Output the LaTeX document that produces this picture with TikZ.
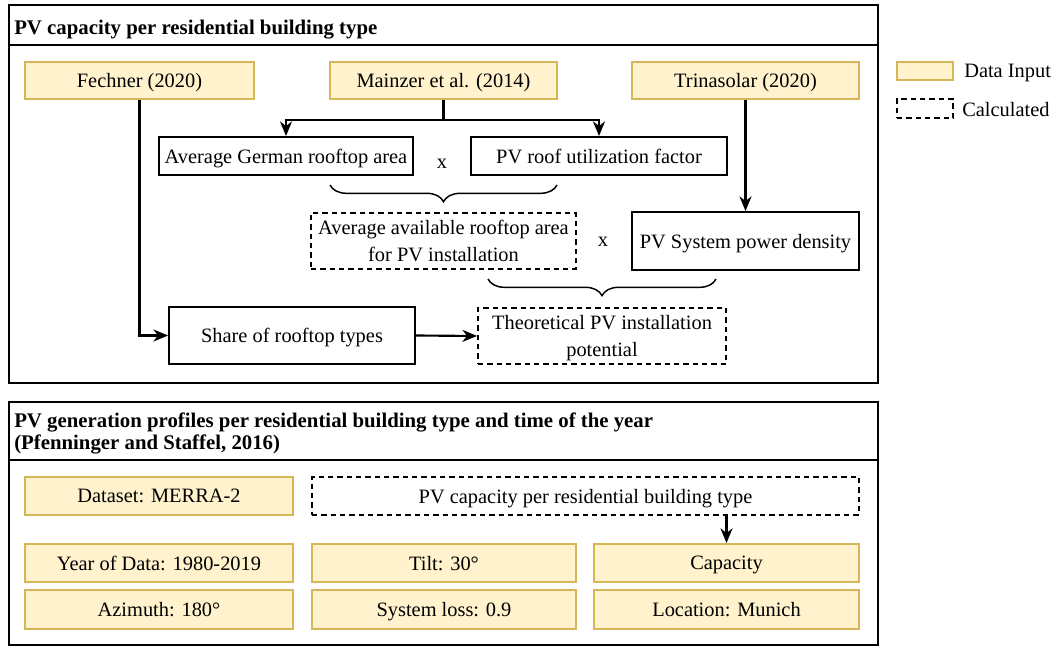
\documentclass[tikz,border=0pt]{standalone}
\usepackage{fontspec}
\setmainfont{Liberation Serif}
\usetikzlibrary{arrows.meta,decorations.pathreplacing}
\definecolor{inputfill}{HTML}{FFF2CC}
\definecolor{inputline}{HTML}{D6B656}

\begin{document}
\begin{tikzpicture}[%
      x=0.75pt, y=-0.75pt,
      every node/.style={font=\fontsize{15.3}{20}\selectfont, inner sep=0pt, text depth=0pt},
      title/.style={font=\fontsize{15.6}{16.5}\selectfont\bfseries, anchor=west, align=left},
      datain/.style={draw=inputline, fill=inputfill, line width=1.4pt, align=center},
      calcbox/.style={draw=black, line width=1.4pt, dash pattern=on 4pt off 3pt, align=center},
      plainbox/.style={draw=black, line width=1.4pt, align=center},
      frame/.style={draw=black, line width=1.5pt},
      link/.style={line width=1.6pt, -{Stealth[length=11pt,width=9pt,inset=3.5pt]}},
      brace/.style={line width=1.1pt, decorate, decoration={brace, mirror, amplitude=12.5pt}},
      ]
      \useasboundingbox (0,0) rectangle (1057,648);

      % upper panel
      \draw [frame] (9,5) rectangle (878,383);
      \draw [frame] (9,45) -- (878,45);
      \node [title] (toptitle) at (14,27) {PV capacity per residential building type};

      \node [datain, minimum width=171.75pt, minimum height=27.75pt] (fechner) at (139.5,80.5) {Fechner (2020)};
      \node [datain, minimum width=170.25pt, minimum height=27.75pt] (mainzer) at (443.5,80.5) {Mainzer et al. (2014)};
      \node [datain, minimum width=170.25pt, minimum height=27.75pt] (trina) at (745.5,80.5) {Trinasolar (2020)};

      \node [plainbox, minimum width=190.5pt, minimum height=28.5pt] (avgroof) at (286,156) {Average German rooftop area};
      \node [plainbox, minimum width=192pt, minimum height=28.5pt] (util) at (599,156) {PV roof utilization factor};
      \node (times1) at (442,164) {x};

      \node [calcbox, minimum width=198.75pt, minimum height=42pt] (avail) at (443.5,241) {Average available rooftop area\\for PV installation};
      \node [plainbox, minimum width=170.25pt, minimum height=43.5pt] (density) at (745.5,241) {PV System power density};
      \node (times2) at (603,242) {x};

      \node [plainbox, minimum width=184.5pt, minimum height=42.75pt] (share) at (292,335.5) {Share of rooftop types};
      \node [calcbox, minimum width=186pt, minimum height=42pt] (theo) at (602,336) {Theoretical PV installation\\potential};

      \coordinate (split) at (443.5,120);
      \draw [line width=1.6pt] (mainzer.south) -- (split);
      \draw [link] (split) -| (avgroof.north);
      \draw [link] (split) -| (util.north);
      \draw [link] (trina.south) -- (density.north);
      \draw [link] (fechner.south) |- (share.west);
      \draw [link] (share.east) -- (theo.west);

      \draw [brace] (330,185) -- (557,185);
      \draw [brace] (488,279) -- (716,279);

      % legend
      \node [datain, minimum width=42pt, minimum height=13.5pt] (keyin) at (925,71) {};
      \node [anchor=west] (keyintext) at (964,71) {Data Input};
      \node [calcbox, minimum width=42pt, minimum height=14.25pt] (keycalc) at (925,108.5) {};
      \node [anchor=west] (keycalctext) at (962,109) {Calculated};

      % lower panel
      \draw [frame] (9,402) rectangle (878,645);
      \draw [frame] (9,460) -- (878,460);
      \node [title] (bottomtitle) at (14,431) {PV generation profiles per residential building type and time of the year\\(Pfenninger and Staffel, 2016)};

      \node [datain, minimum width=201pt, minimum height=28.5pt] (dataset) at (159,496) {Dataset: MERRA-2};
      \node [calcbox, minimum width=410.25pt, minimum height=28.5pt] (pvcap) at (585.5,496) {PV capacity per residential building type};
      \node [datain, minimum width=201pt, minimum height=28.5pt] (year) at (159,563) {Year of Data: 1980-2019};
      \node [datain, minimum width=198pt, minimum height=28.5pt] (tilt) at (444,563) {Tilt: 30°};
      \node [datain, minimum width=198.75pt, minimum height=28.5pt] (capacity) at (726.5,563) {Capacity};
      \node [datain, minimum width=201pt, minimum height=29.25pt] (azimuth) at (159,609.5) {Azimuth: 180°};
      \node [datain, minimum width=198pt, minimum height=29.25pt] (loss) at (444,609.5) {System loss: 0.9};
      \node [datain, minimum width=198.75pt, minimum height=29.25pt] (location) at (726.5,609.5) {Location: Munich};

      \draw [link] (pvcap.south -| capacity.north) -- (capacity.north);
      \end{tikzpicture}
\end{document}
